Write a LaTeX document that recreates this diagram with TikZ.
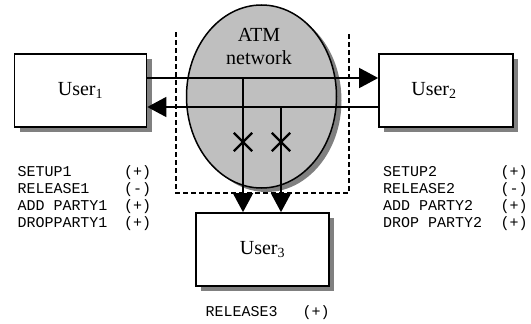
\documentclass[tikz,border=0pt]{standalone}
\usepackage{fontspec}
\setmainfont{Liberation Serif}
\setmonofont{Liberation Mono}
\usetikzlibrary{arrows.meta}
\usetikzlibrary{shapes.geometric}
\usetikzlibrary{shapes.misc}
\usetikzlibrary{shadows}

\begin{document}
\begin{tikzpicture}[x=1pt, y=-1pt]
\tikzset{user/.style = {rectangle, draw, line width=1.7pt, fill=white, minimum width=132pt, minimum height=73pt, font=\fontsize{20}{24}\selectfont, drop shadow={shadow xshift=5pt, shadow yshift=-5pt, fill=black!50, opacity=1}}}
\tikzset{flow/.style = {-{Triangle[length=19pt, width=20pt]}, line width=1.6pt}}
\tikzset{msg/.style = {anchor=base west, inner sep=0pt, font=\fontsize{15}{17.3}\selectfont\ttfamily}}
\tikzset{cut/.style = {cross out, draw, line width=2.3pt, minimum size=16pt, inner sep=0pt}}

\useasboundingbox (0,0) rectangle (531,324);

% network cloud
\node[ellipse, draw, line width=1.5pt, fill=black!25, minimum width=150pt, minimum height=183pt, inner sep=0pt, drop shadow={shadow xshift=5pt, shadow yshift=-4pt, fill=black!50, opacity=1}] (atm) at (261.5,96.5) {};
\node[font=\fontsize{20}{23}\selectfont, align=center] (atmlabel) at (259,46) {ATM\\network};

\draw[dashed, line width=1.4pt, dash pattern=on 5pt off 3pt] (176,32) -- (176,193) -- (349,193) -- (349,32);

% users
\node[user] (user1) at (80.5,90.5) {User\textsubscript{1}};
\node[user, minimum width=134pt] (user2) at (446,90.5) {User\textsubscript{2}\hspace*{24pt}};
\node[user, minimum width=133pt] (user3) at (262.5,249.5) {User\textsubscript{3}};

\coordinate (j1) at (243,78);
\coordinate (j2) at (281,107);

\draw[flow] (user1.east |- j1) -- (user2.west |- j1);
\draw[flow] (user2.west |- j2) -- (user1.east |- j2);
\draw[flow] (j1) -- (j1 |- user3.north);
\draw[flow] (j2) -- (j2 |- user3.north);

\node[cut] (cut1) at (243,142) {};
\node[cut] (cut2) at (281,142) {};

% messages
\node[msg] (msg1) at (17.3,176) {\begin{tabular}[t]{@{}p{106.7pt}@{}l@{}}SETUP1 & (+)\\ RELEASE1 & (-)\\ ADD PARTY1 & (+)\\ DROPPARTY1 & (+)\end{tabular}};
\node[msg] (msg2) at (383,176) {\begin{tabular}[t]{@{}p{117.4pt}@{}l@{}}SETUP2 & (+)\\ RELEASE2 & (-)\\ ADD PARTY2 & (+)\\ DROP PARTY2 & (+)\end{tabular}};
\node[msg] (msg3) at (205.5,316.5) {\begin{tabular}[t]{@{}p{97pt}@{}l@{}}RELEASE3 & (+)\end{tabular}};

\end{tikzpicture}
\end{document}
